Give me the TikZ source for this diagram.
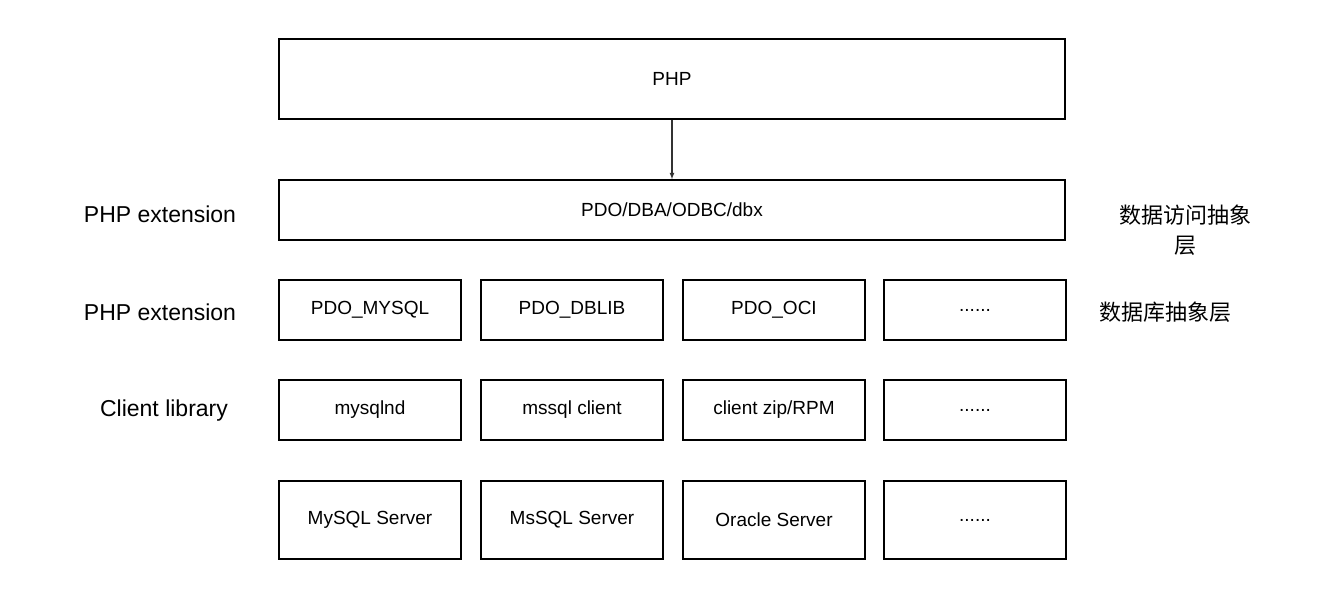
\documentclass[tikz,border=0pt]{standalone}
\usepackage{fontspec}
\setmainfont{Liberation Sans}
\newfontfamily\cjk{Noto Sans CJK SC}
\begin{document}
\begin{tikzpicture}[x=1pt,y=-1pt,
    box/.style={rectangle, draw, line width=1.6pt, font=\fontsize{19}{22}\selectfont},
    side/.style={font=\fontsize{23}{27}\selectfont},
    cside/.style={font=\cjk\fontsize{22}{30}\selectfont, align=center}]
        \useasboundingbox (0,0) rectangle (1328,600);
        % PHP
        \node[box, minimum width=786pt, minimum height=80pt] (php) at (672,79) {PHP};
        
        % Access abstraction
        \node[box, minimum width=786pt, minimum height=60pt] (pdo) at (672,210) {PDO/DBA/ODBC/dbx};
        
        % Drivers
        \node[box, minimum width=182pt, minimum height=60pt] (mysqlpdo) at (370,310) {PDO\_MYSQL};
        \node[box, minimum width=182pt, minimum height=60pt] (dblib) at (572,310) {PDO\_DBLIB};
        \node[box, minimum width=182pt, minimum height=60pt] (oci) at (774,310) {PDO\_OCI};
        \node[box, minimum width=182pt, minimum height=60pt] (drvmore) at (975,310) {......};
        
        % Clients
        \node[box, minimum width=182pt, minimum height=60pt] (mysqlnd) at (370,410) {mysqlnd};
        \node[box, minimum width=182pt, minimum height=60pt] (mssqlc) at (572,410) {mssql client};
        \node[box, minimum width=182pt, minimum height=60pt] (ocic) at (774,410) {client zip/RPM};
        \node[box, minimum width=182pt, minimum height=60pt] (climore) at (975,410) {......};
        
        % Servers
        \node[box, minimum width=182pt, minimum height=78pt] (mysqls) at (370,520) {MySQL Server};
        \node[box, minimum width=182pt, minimum height=78pt] (mssqls) at (572,520) {MsSQL Server};
        \node[box, minimum width=182pt, minimum height=78pt] (oras) at (774,520) {Oracle Server};
        \node[box, minimum width=182pt, minimum height=78pt] (srvmore) at (975,520) {......};
        
        % Labels
        \node[side] (ext1) at (160,214) {PHP extension};
        \node[side] (ext2) at (160,312) {PHP extension};
        \node[side] (client) at (164,411) {Client library};
        \node[cside] (abs1) at (1185,230) {数据访问抽象\\层};
        \node[cside] (abs2) at (1165,312) {数据库抽象层};
        
        % Connections
        \draw[-latex, line width=1.2pt, black!80] (php) -- (pdo);
    \end{tikzpicture}
\end{document}
